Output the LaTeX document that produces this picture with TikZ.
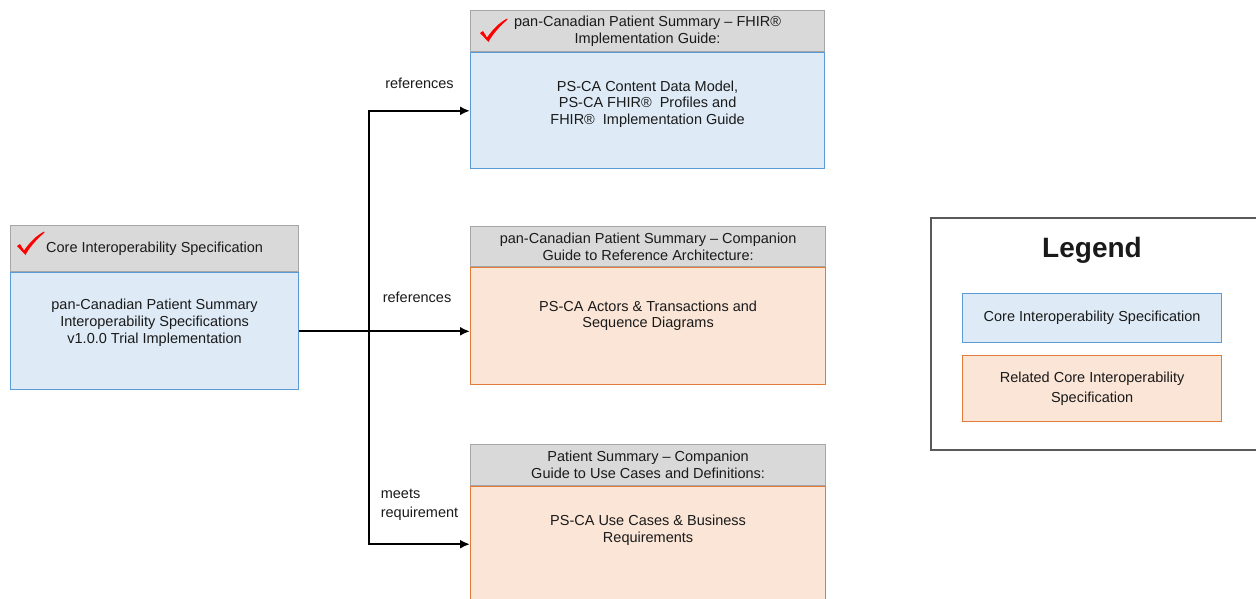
\documentclass[tikz,border=0pt]{standalone}
\usepackage{fontspec}
\setmainfont{Liberation Sans}
\usetikzlibrary{arrows.meta}

\definecolor{headfill}{HTML}{D9D9D9}
\definecolor{headline}{HTML}{A6A6A6}
\definecolor{corefill}{HTML}{DEEBF7}
\definecolor{coreline}{HTML}{5B9BD5}
\definecolor{relfill}{HTML}{FBE5D6}
\definecolor{relline}{HTML}{E07B39}
\definecolor{legline}{HTML}{595959}
\definecolor{tickred}{HTML}{FF0000}
\definecolor{txt}{HTML}{1A1A1A}

% red tick, #1 is the bottom point of the tick
\newcommand{\redtick}[1]{%
  \fill[tickred, shift={#1}] (-7,-9) -- (-4,-11) -- (0,-4.5)
    .. controls (6,-13) and (12,-19) .. (20,-23.5)
    -- (20.5,-22.5) .. controls (12,-15) and (5,-7) .. (1.5,0) -- cycle;}

\begin{document}
\begin{tikzpicture}[x=1pt, y=-1pt,
	every node/.style={font=\fontsize{14.5}{16.8}\selectfont, text=txt},
	headbox/.style={draw=headline, fill=headfill, line width=1.2pt,
		anchor=north west, align=center, inner sep=0pt},
	corebox/.style={draw=coreline, fill=corefill, line width=1.2pt,
		anchor=north west, inner sep=0pt},
	relbox/.style={draw=relline, fill=relfill, line width=1.2pt,
		anchor=north west, inner sep=0pt},
	boxtext/.style={align=center},
	link/.style={line width=2pt, -{Latex[length=10pt,width=9pt]}}]
	
	\useasboundingbox (0,0) rectangle (1256,598);
	\clip (0,0) rectangle (1256,598);
	
	% Core specification
	\node[headbox, minimum width=288, minimum height=46] (core-head) at (10,225)
	{Core Interoperability Specification};
	\node[corebox, minimum width=288, minimum height=117] (core-body)
	at (core-head.south west) {};
	\node[boxtext] (core-txt) at ([yshift=-50.5pt]core-body.north)
	{pan-Canadian Patient Summary\\Interoperability Specifications\\v1.0.0 Trial Implementation};
	\redtick{([shift={(14,30)}]core-head.north west)}
	
	% FHIR implementation guide
	\node[headbox, minimum width=354, minimum height=41] (fhir-head) at (470,10)
	{pan-Canadian Patient Summary – FHIR®\\Implementation Guide:};
	\node[corebox, minimum width=354, minimum height=116] (fhir-body)
	at (fhir-head.south west) {};
	\node[boxtext] (fhir-txt) at ([yshift=-52pt]fhir-body.north)
	{PS-CA Content Data Model,\\PS-CA FHIR®\ \ Profiles and\\FHIR®\ \ Implementation Guide};
	\redtick{([shift={(17,32)}]fhir-head.north west)}
	
	% Reference architecture
	\node[headbox, minimum width=355, minimum height=40] (arch-head) at (470,226)
	{pan-Canadian Patient Summary – Companion\\Guide to Reference Architecture:};
	\node[relbox, minimum width=355, minimum height=117] (arch-body)
	at (arch-head.south west) {};
	\node[boxtext] (arch-txt) at ([yshift=-48.5pt]arch-body.north)
	{PS-CA Actors \& Transactions and\\Sequence Diagrams};
	
	% Use cases
	\node[headbox, minimum width=355, minimum height=41] (use-head) at (470,444)
	{Patient Summary – Companion\\Guide to Use Cases and Definitions:};
	\node[relbox, minimum width=355, minimum height=160] (use-body)
	at (use-head.south west) {};
	\node[boxtext] (use-txt) at ([yshift=-44pt]use-body.north)
	{PS-CA Use Cases \& Business\\Requirements};
	
	% Connectors
	\coordinate (jn) at (369,329.5);
	\coordinate (use-in) at ([yshift=-58pt]use-body.north west);
	\draw[link] (core-body.east) -- (core-body.east -| arch-body.west)
	node[pos=0.69, above=24pt] (lbl-arch) {references};
	\draw[link] (jn) |- (fhir-body.west)
	node[pos=0.75, above=18pt] (lbl-fhir) {references};
	\draw[link] (jn) |- (use-in)
	node[pos=0.75, above=19pt, align=left, font=\fontsize{14.5}{19}\selectfont]
	(lbl-use) {meets\\requirement};
	
	% Legend
	\node[draw=legline, line width=1.5pt, anchor=north west,
	minimum width=332, minimum height=232] (legend) at (930,217) {};
	\node[font=\bfseries\fontsize{28}{32}\selectfont] (legend-title)
	at (1092,250) {Legend};
	\node[corebox, minimum width=259, minimum height=49] (leg-core) at (962,293)
	{Core Interoperability Specification};
	\node[relbox, minimum width=259, minimum height=66, align=center,
	font=\fontsize{14.5}{20}\selectfont] (leg-rel) at (962,355)
	{Related Core Interoperability\\Specification};
	
\end{tikzpicture}
\end{document}
